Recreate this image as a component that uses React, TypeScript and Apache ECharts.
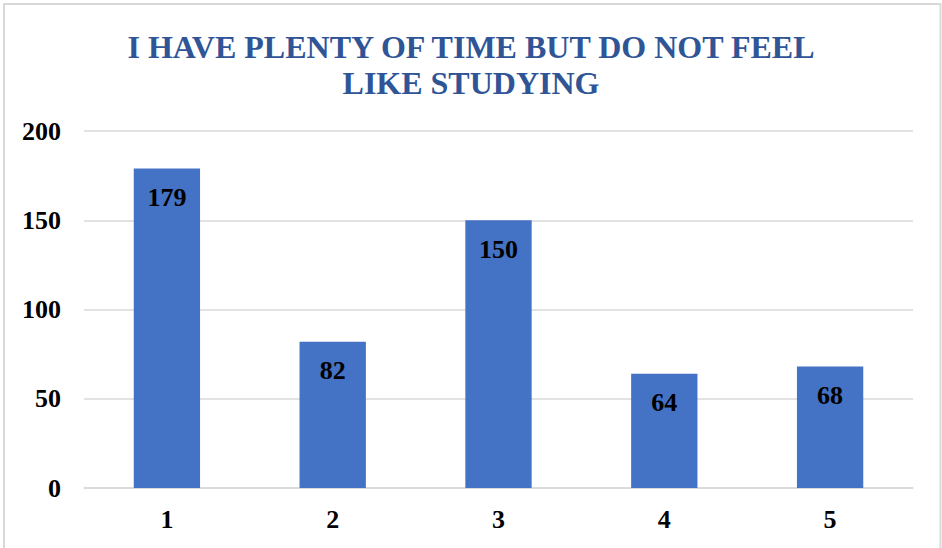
import React, { useEffect, useRef } from "react";
import * as echarts from "echarts";

const titleText = "I HAVE PLENTY OF TIME BUT DO NOT FEEL\nLIKE STUDYING";
const categories = ["1", "2", "3", "4", "5"];
const values = [179, 82, 150, 64, 68];
const yTicks = { min: 0, max: 200, interval: 50 };

const SERIF = "'Liberation Serif', 'Times New Roman', serif";

export default function App() {
  const ref = useRef<HTMLDivElement>(null);

  useEffect(() => {
    if (!ref.current) return;
    const chart = echarts.init(ref.current, null, { renderer: "svg" });
    chart.setOption({
      animation: false,
      backgroundColor: "#ffffff",
      graphic: [
        {
          type: "rect",
          shape: { x: 4, y: 4, width: 936.5, height: 560 },
          style: { fill: "none", stroke: "#d9d9d9", lineWidth: 2 },
          silent: true,
          z: -1,
        },
      ],
      title: {
        text: titleText,
        left: "center",
        top: 24,
        textStyle: {
          fontFamily: SERIF,
          fontSize: 32,
          fontWeight: "bold",
          color: "#2F5597",
          lineHeight: 36,
        },
      },
      grid: { left: 84, right: 29, top: 131, bottom: 60, containLabel: false },
      xAxis: {
        type: "category",
        data: categories,
        axisLine: { show: true, lineStyle: { color: "#d9d9d9", width: 1.5 } },
        axisTick: { show: false },
        axisLabel: {
          margin: 18,
          fontFamily: SERIF,
          fontSize: 26,
          fontWeight: "bold",
          color: "#000000",
        },
      },
      yAxis: {
        type: "value",
        min: yTicks.min,
        max: yTicks.max,
        interval: yTicks.interval,
        axisLine: { show: false },
        axisTick: { show: false },
        splitLine: { lineStyle: { color: "#d9d9d9", width: 1.5 } },
        axisLabel: {
          margin: 23,
          fontFamily: SERIF,
          fontSize: 26,
          fontWeight: "bold",
          color: "#000000",
        },
      },
      series: [
        {
          type: "bar",
          data: values,
          barWidth: "40%",
          itemStyle: { color: "#4472C4" },
          label: {
            show: true,
            position: "insideTop",
            distance: 16,
            fontFamily: SERIF,
            fontSize: 26,
            fontWeight: "bold",
            color: "#000000",
          },
        },
      ],
    });
    return () => chart.dispose();
  }, []);

  return (
    <div
      ref={ref}
      style={{ position: "fixed", left: 0, top: 0, width: 942, height: 548 }}
    />
  );
}
